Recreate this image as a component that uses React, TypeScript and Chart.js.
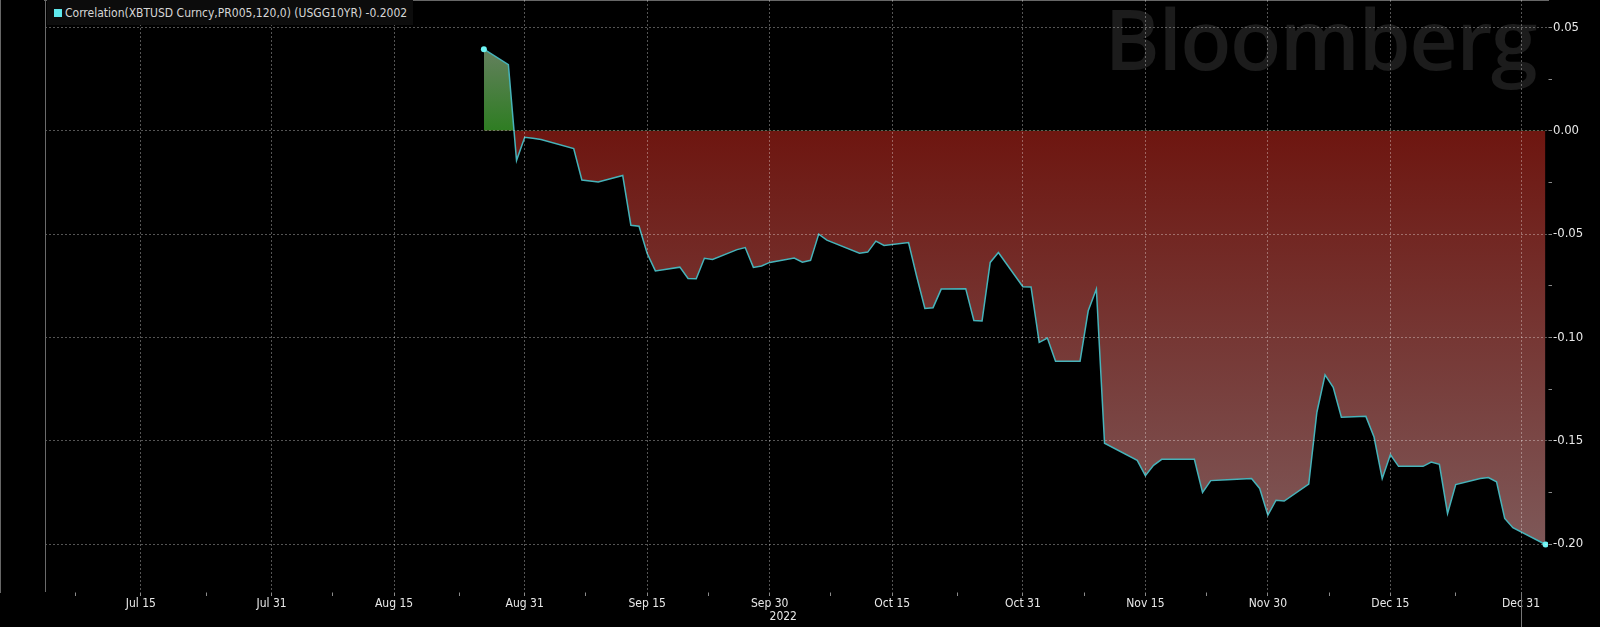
import React, { useEffect, useRef } from 'react';
import { Chart, registerables } from 'chart.js';

Chart.register(...registerables);

// ---------- data ----------
const dates: string[] = [
  '2022-08-26', '2022-08-29', '2022-08-30', '2022-08-31', '2022-09-01', '2022-09-02',
  '2022-09-06', '2022-09-07', '2022-09-08', '2022-09-09', '2022-09-12', '2022-09-13',
  '2022-09-14', '2022-09-15', '2022-09-16', '2022-09-19', '2022-09-20', '2022-09-21',
  '2022-09-22', '2022-09-23', '2022-09-26', '2022-09-27', '2022-09-28', '2022-09-29',
  '2022-09-30', '2022-10-03', '2022-10-04', '2022-10-05', '2022-10-06', '2022-10-07',
  '2022-10-11', '2022-10-12', '2022-10-13', '2022-10-14', '2022-10-17', '2022-10-18',
  '2022-10-19', '2022-10-20', '2022-10-21', '2022-10-24', '2022-10-25', '2022-10-26',
  '2022-10-27', '2022-10-28', '2022-10-31', '2022-11-01', '2022-11-02', '2022-11-03',
  '2022-11-04', '2022-11-07', '2022-11-08', '2022-11-09', '2022-11-10', '2022-11-14',
  '2022-11-15', '2022-11-16', '2022-11-17', '2022-11-18', '2022-11-21', '2022-11-22',
  '2022-11-23', '2022-11-25', '2022-11-28', '2022-11-29', '2022-11-30', '2022-12-01',
  '2022-12-02', '2022-12-05', '2022-12-06', '2022-12-07', '2022-12-08', '2022-12-09',
  '2022-12-12', '2022-12-13', '2022-12-14', '2022-12-15', '2022-12-16', '2022-12-19',
  '2022-12-20', '2022-12-21', '2022-12-22', '2022-12-23', '2022-12-26', '2022-12-27',
  '2022-12-28', '2022-12-29', '2022-12-30', '2023-01-03',
];

const correlation: number[] = [
  0.0395, 0.0320, -0.0143, -0.0031, -0.0036, -0.0042,
  -0.0086, -0.0238, -0.0243, -0.0248, -0.0216, -0.0457,
  -0.0462, -0.0594, -0.0678, -0.0660, -0.0715, -0.0716,
  -0.0617, -0.0623, -0.0575, -0.0565, -0.0661, -0.0654,
  -0.0637, -0.0616, -0.0636, -0.0627, -0.0500, -0.0529,
  -0.0592, -0.0587, -0.0534, -0.0555, -0.0541, -0.0705,
  -0.0860, -0.0856, -0.0766, -0.0764, -0.0918, -0.0920,
  -0.0637, -0.0589, -0.0755, -0.0756, -0.1024, -0.1003,
  -0.1115, -0.1115, -0.0871, -0.0766, -0.1512, -0.1595,
  -0.1669, -0.1619, -0.1590, -0.1590, -0.1590, -0.1750,
  -0.1693, -0.1689, -0.1683, -0.1731, -0.1860, -0.1788,
  -0.1792, -0.1710, -0.1362, -0.1181, -0.1241, -0.1386,
  -0.1382, -0.1482, -0.1683, -0.1567, -0.1624, -0.1624,
  -0.1603, -0.1614, -0.1852, -0.1712, -0.1683, -0.1678,
  -0.1699, -0.1876, -0.1921, -0.2002,
];

const xTickDates: string[] = [
  '2022-07-15', '2022-07-31', '2022-08-15', '2022-08-31', '2022-09-15', '2022-09-30',
  '2022-10-15', '2022-10-31', '2022-11-15', '2022-11-30', '2022-12-15', '2022-12-31',
];
const xTickLabels: string[] = [
  'Jul 15', 'Jul 31', 'Aug 15', 'Aug 31', 'Sep 15', 'Sep 30',
  'Oct 15', 'Oct 31', 'Nov 15', 'Nov 30', 'Dec 15', 'Dec 31',
];
const yMajorTicks: number[] = [0.05, 0.0, -0.05, -0.1, -0.15, -0.2];
const yMinorTicks: number[] = [0.025, -0.025, -0.075, -0.125, -0.175];

const seriesLabel = 'Correlation(XBTUSD Curncy,PR005,120,0) (USGG10YR) -0.2002';
const yearLabel = '2022';
const yearEndDate = '2022-12-31';
const watermark = 'Bloomberg';

const xStartDate = '2022-07-03';
const xEndDate = '2023-01-03';
const yMin = -0.2232;
const yMax = 0.0633;

// ---------- helpers ----------
const DAY_MS = 86400000;
const BASE = Date.UTC(2022, 6, 15);
const toDay = (s: string): number => {
  const [y, m, d] = s.split('-').map(Number);
  return (Date.UTC(y, m - 1, d) - BASE) / DAY_MS;
};

const FONT = '"DejaVu Sans Condensed", "DejaVu Sans", sans-serif';

const majorXDays = xTickDates.map(toDay);
const minorXDays: number[] = [];
minorXDays.push(majorXDays[0] - (majorXDays[1] - majorXDays[0]) / 2);
for (let i = 0; i < majorXDays.length - 1; i++) {
  minorXDays.push((majorXDays[i] + majorXDays[i + 1]) / 2);
}

const isMajorX = (v: number) => majorXDays.some((d) => Math.abs(d - v) < 1e-6);
const isMajorY = (v: number) => yMajorTicks.some((d) => Math.abs(d - v) < 1e-9);

const GRID = 'rgba(255,255,255,0.33)';
const AXIS = '#8a8a8a';

const makeGrad = (chart: any, v0: number, v1: number, c0: string, c1: string, fallback: string) => {
  const { ctx, chartArea, scales } = chart;
  if (!chartArea || !scales || !scales.y) return fallback;
  const y0 = scales.y.getPixelForValue(v0);
  const y1 = scales.y.getPixelForValue(v1);
  if (!isFinite(y0) || !isFinite(y1) || y0 === y1) return fallback;
  const g = ctx.createLinearGradient(0, y0, 0, y1);
  g.addColorStop(0, c0);
  g.addColorStop(1, c1);
  return g;
};

const extrasPlugin = {
  id: 'bbgExtras',
  afterDraw(chart: any) {
    const { ctx, chartArea, scales } = chart;
    ctx.save();
    ctx.strokeStyle = '#6a6a6a';
    ctx.lineWidth = 1;
    ctx.setLineDash([]);
    ctx.beginPath();
    ctx.moveTo(Math.round(chartArea.left) + 0.5, chartArea.top);
    ctx.lineTo(Math.round(chartArea.left) + 0.5, chartArea.bottom);
    ctx.stroke();
    const xd = Math.round(scales.x.getPixelForValue(toDay(yearEndDate))) + 0.5;
    ctx.strokeStyle = '#777';
    ctx.beginPath();
    ctx.moveTo(xd, chartArea.bottom);
    ctx.lineTo(xd, chart.height);
    ctx.stroke();
    ctx.fillStyle = '#e8e8e8';
    ctx.font = '12px ' + FONT;
    ctx.textAlign = 'center';
    ctx.textBaseline = 'middle';
    ctx.fillText(yearLabel, (chartArea.left + xd) / 2, 617);
    ctx.restore();
  },
};

export default function App() {
  const canvasRef = useRef<HTMLCanvasElement | null>(null);

  useEffect(() => {
    document.body.style.margin = '0';
    document.body.style.background = '#000';
    const canvas = canvasRef.current;
    if (!canvas) return;
    const points = dates.map((d, i) => ({ x: toDay(d), y: correlation[i] }));
    const last = points.length - 1;
    const maxV = Math.max(...correlation);
    const minV = Math.min(...correlation);

    const chart = new Chart(canvas, {
      type: 'line',
      data: {
        datasets: [
          {
            label: seriesLabel,
            data: points,
            borderColor: '#46b3ba',
            borderWidth: 1.5,
            backgroundColor: '#6e1610',
            tension: 0,
            pointRadius: (c: any) => (c.dataIndex === 0 || c.dataIndex === last ? 3 : 0),
            pointBackgroundColor: '#6ef4f4',
            pointBorderWidth: 0,
            pointHoverRadius: 0,
            fill: {
              target: 'origin',
              above: (c: any) => makeGrad(c.chart, 0, maxV, '#2e7d22', '#64805e', '#3a7a2e'),
              below: (c: any) => makeGrad(c.chart, 0, minV, '#6e1610', '#7e5858', '#6e1610'),
            },
          } as any,
        ],
      },
      options: {
        animation: false,
        responsive: false,
        maintainAspectRatio: false,
        events: [],
        layout: { padding: { left: 45, right: 0, top: 0, bottom: 0 }, autoPadding: false },
        plugins: {
          legend: { display: false },
          tooltip: { enabled: false },
          title: { display: false },
        },
        scales: {
          x: {
            type: 'linear',
            position: 'bottom',
            min: toDay(xStartDate) + 0.26,
            max: toDay(xEndDate) + 0.3,
            afterBuildTicks: (scale: any) => {
              const all = [...majorXDays, ...minorXDays].sort((a, b) => a - b);
              scale.ticks = all.map((v) => ({ value: v }));
            },
            afterFit: (scale: any) => {
              scale.height = 35;
              scale.paddingLeft = 0;
              scale.paddingRight = 0;
            },
            ticks: {
              autoSkip: false,
              maxRotation: 0,
              minRotation: 0,
              padding: 1,
              color: '#e8e8e8',
              font: { family: FONT, size: 12 },
              callback: (v: any) => {
                const idx = majorXDays.findIndex((d) => Math.abs(d - Number(v)) < 1e-6);
                return idx >= 0 ? xTickLabels[idx] : '';
              },
            },
            grid: {
              z: 1,
              color: (c: any) => (c.tick && isMajorX(c.tick.value) ? GRID : 'rgba(0,0,0,0)'),
              lineWidth: 1,
              drawTicks: true,
              tickLength: 4,
              tickColor: AXIS,
              tickBorderDash: [],
            },
            border: { display: true, color: AXIS, width: 1.5, dash: [2, 2] },
          },
          y: {
            type: 'linear',
            position: 'right',
            min: yMin,
            max: yMax,
            afterBuildTicks: (scale: any) => {
              const all = [...yMajorTicks, ...yMinorTicks].sort((a, b) => a - b);
              scale.ticks = all.map((v) => ({ value: v }));
            },
            afterFit: (scale: any) => {
              scale.width = 52;
              scale.paddingTop = 0;
              scale.paddingBottom = 0;
            },
            ticks: {
              autoSkip: false,
              padding: 1,
              color: '#e8e8e8',
              font: { family: FONT, size: 13 },
              callback: (v: any) => (isMajorY(Number(v)) ? Number(v).toFixed(2) : ''),
            },
            grid: {
              z: 1,
              color: (c: any) => (c.tick && isMajorY(c.tick.value) ? GRID : 'rgba(0,0,0,0)'),
              lineWidth: 1,
              drawTicks: true,
              tickLength: 4,
              tickColor: AXIS,
              tickBorderDash: [],
            },
            border: { display: true, color: AXIS, width: 1.5, dash: [2, 2] },
          },
        },
      } as any,
      plugins: [extrasPlugin],
    });
    return () => chart.destroy();
  }, []);

  return (
    <div style={{ position: 'relative', width: 1600, height: 627, background: '#000', overflow: 'hidden' }}>
      <div
        style={{
          position: 'absolute',
          right: 64,
          top: -4,
          fontFamily: '"Open Sans", sans-serif',
          fontWeight: 600,
          fontSize: 84,
          lineHeight: 1,
          color: '#1c1c1c',
          letterSpacing: -1.5,
          whiteSpace: 'nowrap',
        }}
      >
        {watermark}
      </div>
      <canvas
        ref={canvasRef}
        width={1600}
        height={627}
        style={{ position: 'absolute', left: 0, top: 0, width: 1600, height: 627 }}
      />
      <div
        style={{
          position: 'absolute',
          left: 47,
          top: 0,
          height: 25,
          paddingLeft: 7,
          paddingRight: 6,
          display: 'flex',
          alignItems: 'center',
          background: '#0c0c0c',
          fontFamily: FONT,
          fontSize: 12,
          color: '#d6d6d6',
          whiteSpace: 'nowrap',
        }}
      >
        <span style={{ display: 'inline-block', width: 8, height: 8, background: '#5fe8ec', marginRight: 3 }} />
        <span>{seriesLabel}</span>
      </div>
    </div>
  );
}
